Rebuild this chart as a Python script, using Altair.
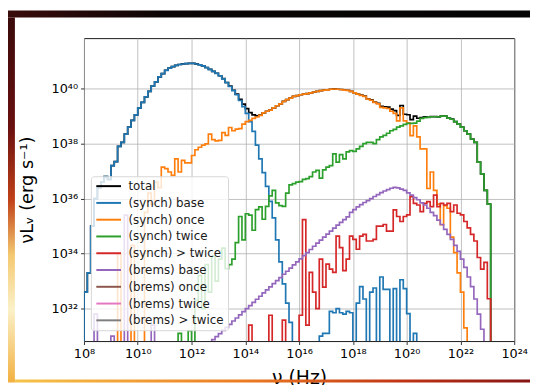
import math
import altair as alt
import pandas as pd

# ---------------- data (log10 values per 1/8-dex frequency bin) ----------------
BIN = 0.125          # bin width in log10(nu)
FLOOR = 30.0         # "empty" bin, below the visible axis range

series_names = ["total", "(synch) base", "(synch) once", "(synch) twice", "(synch) > twice",
                "(brems) base", "(brems) once", "(brems) twice", "(brems) > twice"]
series_colors = ["#000000", "#1f77b4", "#ff7f0e", "#2ca02c", "#d62728",
                 "#9467bd", "#8c564b", "#e377c2", "#7f7f7f"]

x_tick_exps = [8, 10, 12, 14, 16, 18, 20, 22, 24]
x_tick_labels = ["10⁸", "10¹⁰", "10¹²", "10¹⁴", "10¹⁶", "10¹⁸", "10²⁰", "10²²", "10²⁴"]
y_tick_exps = [32, 34, 36, 38, 40]
y_tick_labels = ["10³²", "10³⁴", "10³⁶", "10³⁸", "10⁴⁰"]
x_domain_exp = [8.0, 24.0]
y_domain_exp = [30.82, 41.84]

synch_base_start = 8.0
synch_base = [32.6, 33.3, 35.0, 36.0, 36.4, 36.6, 36.8, 36.7,
              37.2, 37.35, 37.9, 38.05, 38.35, 38.6, 38.85, 39.05,
              39.3, 39.5, 39.7, 39.9, 40.1, 40.25, 40.43, 40.55,
              40.67, 40.75, 40.8, 40.85, 40.88, 40.9, 40.91, 40.92,
              40.92, 40.9, 40.87, 40.83, 40.77, 40.7, 40.63, 40.56,
              40.47, 40.36, 40.22, 40.08, 39.93, 39.78, 39.57, 39.35,
              39.1, 38.8, 38.45, 37.95, 37.45, 36.95, 36.45, 35.9,
              35.3, 34.5, 33.7, 32.9, 32.2, 31.5, 30.0, 30.0,
              30.0, 30.0, 30.0, 30.0, 30.0, 30.0, 31.0, 31.1,
              31.1, 31.9, 31.85, 32.0, 31.85, 31.8, 31.9, 31.85,
              30.0, 32.2, 32.8, 32.35, 30.0, 32.6, 32.75, 30.0,
              33.15, 32.7, 32.7, 30.0, 32.73, 30.0, 33.05, 32.73,
              31.82, 30.0, 31.1]

synch_once_start = 9.125
synch_once = [30.0, 34.0, 30.0, 30.0, 30.0, 34.3, 30.0,
              30.0, 30.0, 35.5, 36.2, 35.8, 36.6, 36.4, 37.15,
              37.09, 36.97, 36.85, 37.45, 36.97, 37.39, 37.3, 37.3,
              37.57, 37.78, 37.87, 37.95, 37.99, 38.35, 38.15, 38.1,
              38.12, 38.4, 38.3, 38.59, 38.47, 38.53, 38.55, 38.71,
              38.8, 38.85, 38.92, 38.97, 39.03, 39.12, 39.18, 39.22,
              39.3, 39.38, 39.45, 39.54, 39.6, 39.66, 39.72, 39.75,
              39.78, 39.8, 39.82, 39.85, 39.88, 39.9, 39.93, 39.95,
              39.96, 39.98, 39.99, 39.98, 39.97, 39.95, 39.94, 39.9,
              39.85, 39.8, 39.76, 39.72, 39.62, 39.58, 39.5, 39.45,
              39.32, 39.3, 39.28, 39.18, 39.1, 38.83, 39.3, 38.83,
              38.76, 38.29, 38.65, 38.25, 37.81, 37.81, 36.37, 36.97,
              36.3, 35.8, 35.05, 35.75, 35.65, 34.6, 34.04, 33.3,
              32.6, 31.3]

synch_twice_start = 11.5
synch_twice = [31.1, 30.0, 30.0, 31.2,
               30.0, 32.3, 33.2, 32.0, 33.6, 32.6, 33.9, 33.0,
               33.8, 34.2, 33.45, 33.6, 33.8, 34.4, 35.35, 34.5,
               35.45, 35.4, 34.85, 35.6, 35.7, 35.25, 35.72, 36.1,
               36.3, 35.85, 35.75, 35.72, 36.2, 36.5, 36.55, 36.6,
               36.62, 36.7, 36.73, 36.8, 36.97, 37.03, 36.75, 37.05,
               37.15, 37.2, 37.63, 37.33, 37.6, 37.45, 37.7, 37.75,
               37.72, 37.81, 37.9, 38.0, 38.05, 38.05, 38.0, 38.15,
               38.25, 38.3, 38.38, 38.47, 38.52, 38.6, 38.65, 38.7,
               38.74, 38.74, 38.75, 38.82, 38.92, 38.95, 38.96, 38.98,
               38.98, 38.97, 39.0, 39.0, 38.93, 38.89, 38.8, 38.71,
               38.6, 38.47, 38.35, 38.17, 38.05, 37.33, 36.9, 36.3,
               35.8]

synch_gt_twice_start = 14.125
synch_gt_twice = [31.4, 30.0, 30.0, 30.0, 30.0, 30.0, 31.76,
                  30.0, 30.0, 30.0, 31.58, 30.0, 30.0, 30.0, 30.0,
                  31.76, 35.24, 31.4, 33.32, 32.6, 32.0, 33.8, 32.78,
                  33.62, 33.44, 33.32, 34.64, 34.22, 33.38, 33.8, 34.64,
                  34.52, 34.16, 34.64, 34.7, 34.46, 34.46, 34.52, 35.0,
                  35.0, 35.06, 34.82, 34.82, 35.59, 35.35, 35.17, 35.35,
                  35.41, 36.07, 35.83, 35.77, 35.53, 35.83, 35.89, 35.71,
                  36.13, 35.71, 35.83, 35.77, 35.83, 35.53, 35.77, 35.47,
                  35.41, 35.17, 34.94, 34.7, 34.46, 33.86, 33.44, 33.68,
                  32.36]

brems_base_start = 8.375
brems_base = [31.8, 30.0, 30.0, 30.0, 30.0,
              31.0, 30.0, 30.0, 30.0, 35.4, 30.0, 30.0, 30.0,
              30.0, 30.0, 30.0, 30.0, 31.4, 30.0, 30.0, 30.0,
              30.0, 30.0, 30.0, 30.0, 30.0, 30.0, 30.0, 30.0,
              30.0, 30.0, 30.0, 30.0, 30.0, 30.0, 30.87,
              30.98, 31.09, 31.21, 31.32, 31.43, 31.55, 31.66, 31.77,
              31.89, 32.0, 32.11, 32.23, 32.34, 32.45, 32.57, 32.68,
              32.79, 32.91, 33.02, 33.13, 33.25, 33.36, 33.47, 33.59,
              33.7, 33.81, 33.93, 34.04, 34.15, 34.27, 34.38, 34.49,
              34.6, 34.71, 34.82, 34.93, 35.04, 35.14, 35.24, 35.34,
              35.5, 35.6, 35.7, 35.78, 35.86, 35.93, 36.0, 36.08,
              36.15, 36.22, 36.28, 36.33, 36.38, 36.41, 36.39, 36.35,
              36.3, 36.21, 36.13, 36.04, 35.96, 35.85, 35.77, 35.65,
              35.5, 35.38, 35.22, 35.06, 34.88, 34.7, 34.52, 34.3,
              34.08, 33.8, 33.5, 33.15, 32.8, 32.35, 31.8, 31.25]

components = {
    "(synch) base": (synch_base_start, synch_base),
    "(synch) once": (synch_once_start, synch_once),
    "(synch) twice": (synch_twice_start, synch_twice),
    "(synch) > twice": (synch_gt_twice_start, synch_gt_twice),
    "(brems) base": (brems_base_start, brems_base),
}

# total = sum of all components, bin by bin
grid = {}
for start, vals in components.values():
    for i, v in enumerate(vals):
        k = round((start - x_domain_exp[0]) / BIN) + i
        if v > FLOOR:
            grid[k] = grid.get(k, 0.0) + 10 ** v
total_vals = [math.log10(grid[k]) if k in grid else FLOOR for k in range(max(grid) + 1)]
all_series = {"total": (x_domain_exp[0], total_vals)}
all_series.update(components)

rows = []
for name, (start, vals) in all_series.items():
    xs = [start] + [start + i * BIN for i in range(len(vals))] + [start + len(vals) * BIN]
    ys = [FLOOR] + list(vals) + [FLOOR]
    for j, (xv, yv) in enumerate(zip(xs, ys)):
        rows.append({"series": name, "nu": 10 ** xv, "L": 10 ** yv, "idx": j})
df = pd.DataFrame(rows)


def label_expr(exps, labels):
    parts = [f"round(log(datum.value)/LN10)=={e}?'{lab}':" for e, lab in zip(exps, labels)]
    return "".join(parts) + "''"


FONT = "DejaVu Sans"
x_axis = alt.Axis(values=[10.0 ** e for e in x_tick_exps], labelExpr=label_expr(x_tick_exps, x_tick_labels),
                  grid=True, gridColor="#b0b0b0", gridWidth=0.8, domain=False,
                  tickColor="#000000", tickSize=3.5, tickWidth=0.8,
                  labelFont=FONT, labelFontSize=13, labelColor="#000000", labelPadding=3,
                  labelOverlap=False, labelFlush=False,
                  titleFont=FONT, titleFontSize=19, titleFontWeight="normal", titleColor="#000000",
                  titlePadding=9)
y_axis = alt.Axis(values=[10.0 ** e for e in y_tick_exps], labelExpr=label_expr(y_tick_exps, y_tick_labels),
                  grid=True, gridColor="#b0b0b0", gridWidth=0.8, domain=False,
                  tickColor="#000000", tickSize=3.5, tickWidth=0.8,
                  labelFont=FONT, labelFontSize=13, labelColor="#000000", labelPadding=3,
                  labelOverlap=False,
                  titleFont=FONT, titleFontSize=18, titleFontWeight="normal", titleColor="#000000",
                  titlePadding=15)

legend = alt.Legend(orient="none", legendX=7, legendY=140, symbolType="M-2.5,0H2.5", symbolSize=100,
                    symbolOffset=8, symbolStrokeWidth=2, labelFont=FONT, labelFontSize=12,
                    labelColor="#1a1a1a", labelOffset=14, padding=4, rowPadding=5,
                    fillColor="rgba(255,255,255,0.8)", strokeColor="#d6d6d6", cornerRadius=3)

base = alt.Chart(df).mark_line(interpolate="step-after", clip=True, strokeWidth=1.7).encode(
    x=alt.X("nu:Q", title="ν (Hz)",
            scale=alt.Scale(type="log", domain=[10 ** x_domain_exp[0], 10 ** x_domain_exp[1]], nice=False),
            axis=x_axis),
    y=alt.Y("L:Q", title="νLᵥ (erg s⁻¹)",
            scale=alt.Scale(type="log", domain=[10 ** y_domain_exp[0], 10 ** y_domain_exp[1]], nice=False),
            axis=y_axis),
    color=alt.Color("series:N", title=None,
                    scale=alt.Scale(domain=series_names, range=series_colors), legend=legend),
    order=alt.Order("idx:Q"),
)
line_layers = [base.transform_filter(alt.datum.series == n) for n in series_names if n in all_series]

# decorative frame of the screenshot (dark top bar, coloured left/bottom edges)
frame_df = pd.DataFrame({"k": [0]})
top_band = alt.Chart(frame_df).mark_rect(fill=alt.LinearGradient(
    gradient="linear", x1=0, x2=1, y1=0, y2=0,
    stops=[alt.GradientStop(offset=0, color="#3a0c0c"), alt.GradientStop(offset=0.3, color="#0c0606"),
           alt.GradientStop(offset=1, color="#040404")])).encode(
    x=alt.value(-77), x2=alt.value(452), y=alt.value(-28), y2=alt.value(-21))
left_band = alt.Chart(frame_df).mark_rect(fill=alt.LinearGradient(
    gradient="linear", x1=0, x2=0, y1=0, y2=1,
    stops=[alt.GradientStop(offset=0, color="#3a0a0a"), alt.GradientStop(offset=0.3, color="#6a1010"),
           alt.GradientStop(offset=0.5, color="#c04018"), alt.GradientStop(offset=0.65, color="#f4c870"),
           alt.GradientStop(offset=0.8, color="#fbf1c8"), alt.GradientStop(offset=1, color="#f2b040")])).encode(
    x=alt.value(-77), x2=alt.value(-70), y=alt.value(-21), y2=alt.value(349))
bottom_band = alt.Chart(frame_df).mark_rect(fill=alt.LinearGradient(
    gradient="linear", x1=0, x2=1, y1=0, y2=0,
    stops=[alt.GradientStop(offset=0, color="#f6c44a"), alt.GradientStop(offset=0.45, color="#ec7a22"),
           alt.GradientStop(offset=0.75, color="#c03414"), alt.GradientStop(offset=1, color="#861414")])).encode(
    x=alt.value(-70), x2=alt.value(452), y=alt.value(346), y2=alt.value(349))

chart = alt.layer(top_band, left_band, bottom_band, *line_layers).properties(
    width=436, height=307,
    padding={"left": 77, "top": 28, "right": 16, "bottom": 42},
    autosize=alt.AutoSizeParams(type="none"),
    background="#ffffff",
).configure(font=FONT).configure_view(stroke="#1a1a1a", strokeWidth=1)

chart.save("out.html", embed_options={"renderer": "svg", "actions": False})
